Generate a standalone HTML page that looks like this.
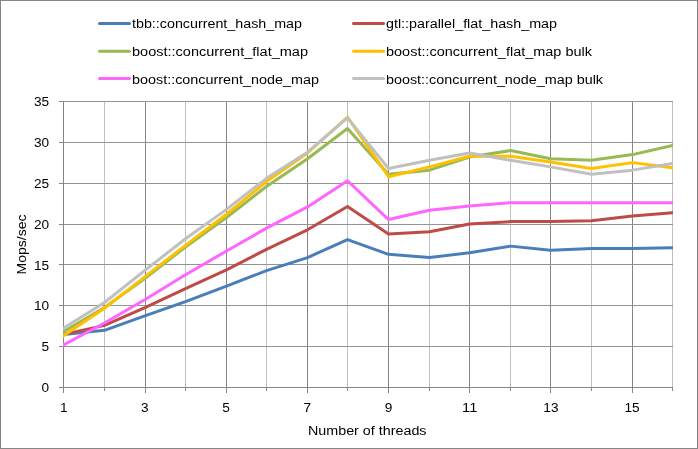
<!DOCTYPE html><html><head><meta charset="utf-8"><style>html,body{margin:0;padding:0;background:#fff}svg{display:block}svg{will-change:transform}text{font-family:"Liberation Sans",sans-serif;font-size:12px;fill:#000}</style></head><body>
<svg width="698" height="449" viewBox="0 0 698 449">
<rect x="0" y="0" width="698" height="449" fill="#fff"/>
<rect x="0.5" y="0.5" width="697" height="448" fill="none" stroke="#868686" stroke-width="1"/>
<g shape-rendering="crispEdges"><line x1="104.5" y1="101.5" x2="104.5" y2="387.5" stroke="#c0c0c0"/><line x1="145.5" y1="101.5" x2="145.5" y2="387.5" stroke="#868686"/><line x1="185.5" y1="101.5" x2="185.5" y2="387.5" stroke="#c0c0c0"/><line x1="226.5" y1="101.5" x2="226.5" y2="387.5" stroke="#868686"/><line x1="266.5" y1="101.5" x2="266.5" y2="387.5" stroke="#c0c0c0"/><line x1="307.5" y1="101.5" x2="307.5" y2="387.5" stroke="#868686"/><line x1="347.5" y1="101.5" x2="347.5" y2="387.5" stroke="#c0c0c0"/><line x1="388.5" y1="101.5" x2="388.5" y2="387.5" stroke="#868686"/><line x1="429.5" y1="101.5" x2="429.5" y2="387.5" stroke="#c0c0c0"/><line x1="469.5" y1="101.5" x2="469.5" y2="387.5" stroke="#868686"/><line x1="510.5" y1="101.5" x2="510.5" y2="387.5" stroke="#c0c0c0"/><line x1="550.5" y1="101.5" x2="550.5" y2="387.5" stroke="#868686"/><line x1="591.5" y1="101.5" x2="591.5" y2="387.5" stroke="#c0c0c0"/><line x1="632.5" y1="101.5" x2="632.5" y2="387.5" stroke="#868686"/><line x1="672.5" y1="101.5" x2="672.5" y2="387.5" stroke="#c0c0c0"/><line x1="63.5" y1="346.5" x2="672.5" y2="346.5" stroke="#949494"/><line x1="63.5" y1="305.5" x2="672.5" y2="305.5" stroke="#949494"/><line x1="63.5" y1="264.5" x2="672.5" y2="264.5" stroke="#949494"/><line x1="63.5" y1="224.5" x2="672.5" y2="224.5" stroke="#949494"/><line x1="63.5" y1="183.5" x2="672.5" y2="183.5" stroke="#949494"/><line x1="63.5" y1="142.5" x2="672.5" y2="142.5" stroke="#949494"/><line x1="63.5" y1="101.5" x2="672.5" y2="101.5" stroke="#949494"/></g>
<g shape-rendering="crispEdges"><line x1="63.5" y1="101.0" x2="63.5" y2="388.0" stroke="#868686"/><line x1="63.0" y1="387.5" x2="673.0" y2="387.5" stroke="#868686"/><line x1="63.5" y1="387.5" x2="63.5" y2="393.0" stroke="#868686"/><line x1="104.5" y1="387.5" x2="104.5" y2="391.0" stroke="#868686"/><line x1="145.5" y1="387.5" x2="145.5" y2="393.0" stroke="#868686"/><line x1="185.5" y1="387.5" x2="185.5" y2="391.0" stroke="#868686"/><line x1="226.5" y1="387.5" x2="226.5" y2="393.0" stroke="#868686"/><line x1="266.5" y1="387.5" x2="266.5" y2="391.0" stroke="#868686"/><line x1="307.5" y1="387.5" x2="307.5" y2="393.0" stroke="#868686"/><line x1="347.5" y1="387.5" x2="347.5" y2="391.0" stroke="#868686"/><line x1="388.5" y1="387.5" x2="388.5" y2="393.0" stroke="#868686"/><line x1="429.5" y1="387.5" x2="429.5" y2="391.0" stroke="#868686"/><line x1="469.5" y1="387.5" x2="469.5" y2="393.0" stroke="#868686"/><line x1="510.5" y1="387.5" x2="510.5" y2="391.0" stroke="#868686"/><line x1="550.5" y1="387.5" x2="550.5" y2="393.0" stroke="#868686"/><line x1="591.5" y1="387.5" x2="591.5" y2="391.0" stroke="#868686"/><line x1="632.5" y1="387.5" x2="632.5" y2="393.0" stroke="#868686"/><line x1="672.5" y1="387.5" x2="672.5" y2="391.0" stroke="#868686"/><line x1="59.0" y1="387.5" x2="63.5" y2="387.5" stroke="#868686"/><line x1="59.0" y1="346.5" x2="63.5" y2="346.5" stroke="#868686"/><line x1="59.0" y1="305.5" x2="63.5" y2="305.5" stroke="#868686"/><line x1="59.0" y1="264.5" x2="63.5" y2="264.5" stroke="#868686"/><line x1="59.0" y1="224.5" x2="63.5" y2="224.5" stroke="#868686"/><line x1="59.0" y1="183.5" x2="63.5" y2="183.5" stroke="#868686"/><line x1="59.0" y1="142.5" x2="63.5" y2="142.5" stroke="#868686"/><line x1="59.0" y1="101.5" x2="63.5" y2="101.5" stroke="#868686"/></g>
<defs><clipPath id="pc"><rect x="63" y="95" width="610" height="298"/></clipPath></defs>
<polyline clip-path="url(#pc)" points="60.50,334.68 63.50,334.39 104.50,330.30 145.50,315.59 185.50,301.70 226.50,286.17 266.50,270.65 307.50,257.57 347.50,239.60 388.50,254.31 429.50,257.57 469.50,252.67 510.50,246.13 550.50,250.22 591.50,248.59 632.50,248.59 672.50,247.77 675.50,247.71" fill="none" stroke="#4a7ebb" stroke-width="3" stroke-linejoin="round" stroke-linecap="butt"/>
<polyline clip-path="url(#pc)" points="60.50,335.04 63.50,334.39 104.50,325.40 145.50,307.42 185.50,288.63 226.50,269.83 266.50,249.40 307.50,229.79 347.50,206.50 388.50,233.88 429.50,231.83 469.50,224.07 510.50,221.62 550.50,221.62 591.50,220.80 632.50,215.90 672.50,212.63 675.50,212.39" fill="none" stroke="#be4b48" stroke-width="3" stroke-linejoin="round" stroke-linecap="butt"/>
<polyline clip-path="url(#pc)" points="60.50,333.55 63.50,331.77 104.50,307.42 145.50,278.00 185.50,246.95 226.50,217.53 266.50,186.48 307.50,158.70 347.50,128.47 388.50,174.23 429.50,170.14 469.50,157.07 510.50,150.53 550.50,158.70 591.50,160.33 632.50,154.61 672.50,145.46 675.50,144.78" fill="none" stroke="#98b954" stroke-width="3" stroke-linejoin="round" stroke-linecap="butt"/>
<polyline clip-path="url(#pc)" points="60.50,337.79 63.50,335.77 104.50,308.24 145.50,276.37 185.50,245.32 226.50,214.27 266.50,181.58 307.50,152.98 347.50,117.03 388.50,176.68 429.50,166.87 469.50,156.25 510.50,156.25 550.50,161.97 591.50,168.51 632.50,162.62 672.50,167.69 675.50,168.07" fill="none" stroke="#ffc000" stroke-width="3" stroke-linejoin="round" stroke-linecap="butt"/>
<polyline clip-path="url(#pc)" points="60.50,346.62 63.50,345.01 104.50,322.95 145.50,299.25 185.50,274.73 226.50,251.04 266.50,228.16 307.50,206.91 347.50,180.76 388.50,219.58 429.50,210.18 469.50,206.09 510.50,202.66 550.50,202.66 591.50,202.66 632.50,202.66 672.50,202.66 675.50,202.66" fill="none" stroke="#ff66ff" stroke-width="3" stroke-linejoin="round" stroke-linecap="butt"/>
<polyline clip-path="url(#pc)" points="60.50,330.05 63.50,328.18 104.50,302.52 145.50,269.83 185.50,238.78 226.50,209.36 266.50,178.31 307.50,152.16 347.50,117.84 388.50,168.51 429.50,160.33 469.50,152.98 510.50,160.33 550.50,166.87 591.50,174.23 632.50,170.14 672.50,163.60 675.50,163.11" fill="none" stroke="#c0c0c0" stroke-width="3" stroke-linejoin="round" stroke-linecap="butt"/>
<line x1="99.5" y1="23.5" x2="129.5" y2="23.5" stroke="#4a7ebb" stroke-width="3" stroke-linecap="round"/>
<text x="132" y="28.2" font-size="13" textLength="170" lengthAdjust="spacingAndGlyphs">tbb::concurrent_hash_map</text>
<line x1="353.5" y1="23.5" x2="383.5" y2="23.5" stroke="#be4b48" stroke-width="3" stroke-linecap="round"/>
<text x="386" y="28.2" font-size="13" textLength="171" lengthAdjust="spacingAndGlyphs">gtl::parallel_flat_hash_map</text>
<line x1="99.5" y1="51.3" x2="129.5" y2="51.3" stroke="#98b954" stroke-width="3" stroke-linecap="round"/>
<text x="132" y="56" font-size="13" textLength="176" lengthAdjust="spacingAndGlyphs">boost::concurrent_flat_map</text>
<line x1="353.5" y1="51.3" x2="383.5" y2="51.3" stroke="#ffc000" stroke-width="3" stroke-linecap="round"/>
<text x="386" y="56" font-size="13" textLength="206" lengthAdjust="spacingAndGlyphs">boost::concurrent_flat_map bulk</text>
<line x1="99.5" y1="78.6" x2="129.5" y2="78.6" stroke="#ff66ff" stroke-width="3" stroke-linecap="round"/>
<text x="132" y="83.6" font-size="13" textLength="187" lengthAdjust="spacingAndGlyphs">boost::concurrent_node_map</text>
<line x1="353.5" y1="78.6" x2="383.5" y2="78.6" stroke="#c0c0c0" stroke-width="3" stroke-linecap="round"/>
<text x="386" y="83.6" font-size="13" textLength="217" lengthAdjust="spacingAndGlyphs">boost::concurrent_node_map bulk</text>
<text x="49.2" y="392" text-anchor="end" textLength="7.6" lengthAdjust="spacingAndGlyphs">0</text>
<text x="49.2" y="351" text-anchor="end" textLength="7.6" lengthAdjust="spacingAndGlyphs">5</text>
<text x="49.2" y="310" text-anchor="end" textLength="15.2" lengthAdjust="spacingAndGlyphs">10</text>
<text x="49.2" y="270" text-anchor="end" textLength="15.2" lengthAdjust="spacingAndGlyphs">15</text>
<text x="49.2" y="229" text-anchor="end" textLength="15.2" lengthAdjust="spacingAndGlyphs">20</text>
<text x="49.2" y="188" text-anchor="end" textLength="15.2" lengthAdjust="spacingAndGlyphs">25</text>
<text x="49.2" y="147" text-anchor="end" textLength="15.2" lengthAdjust="spacingAndGlyphs">30</text>
<text x="49.2" y="106" text-anchor="end" textLength="15.2" lengthAdjust="spacingAndGlyphs">35</text>
<text x="63.70" y="412" text-anchor="middle" textLength="7.6" lengthAdjust="spacingAndGlyphs">1</text>
<text x="144.90" y="412" text-anchor="middle" textLength="7.6" lengthAdjust="spacingAndGlyphs">3</text>
<text x="226.10" y="412" text-anchor="middle" textLength="7.6" lengthAdjust="spacingAndGlyphs">5</text>
<text x="307.30" y="412" text-anchor="middle" textLength="7.6" lengthAdjust="spacingAndGlyphs">7</text>
<text x="388.50" y="412" text-anchor="middle" textLength="7.6" lengthAdjust="spacingAndGlyphs">9</text>
<text x="469.70" y="412" text-anchor="middle" textLength="15.2" lengthAdjust="spacingAndGlyphs">11</text>
<text x="550.90" y="412" text-anchor="middle" textLength="15.2" lengthAdjust="spacingAndGlyphs">13</text>
<text x="632.10" y="412" text-anchor="middle" textLength="15.2" lengthAdjust="spacingAndGlyphs">15</text>
<text x="308" y="435" font-size="13" textLength="118.5" lengthAdjust="spacingAndGlyphs">Number of threads</text>
<text transform="translate(26.2,274.5) rotate(-90)" font-size="13" textLength="60" lengthAdjust="spacingAndGlyphs">Mops/sec</text>
</svg></body></html>
